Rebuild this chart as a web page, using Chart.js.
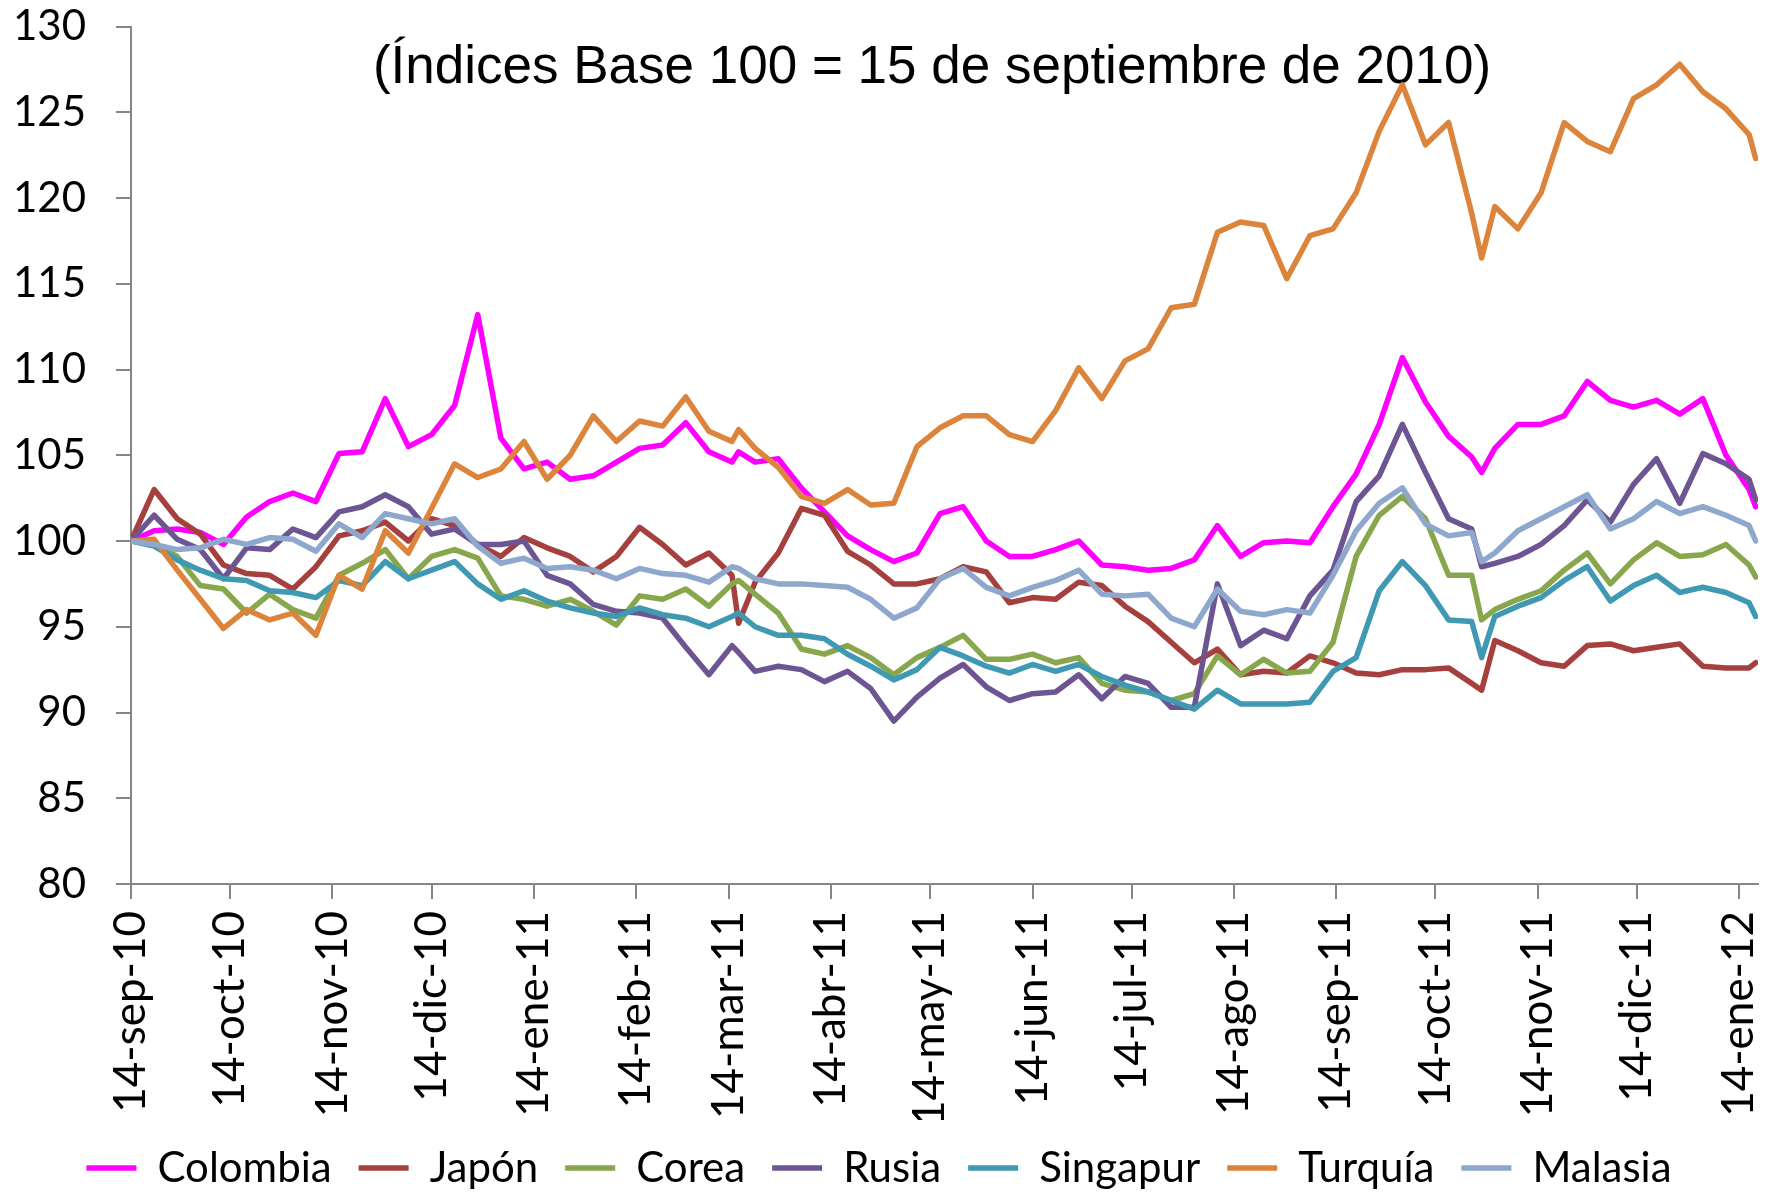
<!DOCTYPE html>
<html>
<head>
<meta charset="utf-8">
<script src="https://cdn.jsdelivr.net/npm/chart.js@4.4.1/dist/chart.umd.min.js"></script>
<style>
  html, body { margin: 0; padding: 0; background: #fff; }
  canvas { display: block; }
</style>
</head>
<body>
<canvas id="indexChart" width="1776" height="1199"></canvas>
<script>
// days counted from 14-sep-2010
const days = [
  0, 7, 14, 21, 28, 35, 42, 49, 56, 63,
  70, 77, 84, 91, 98, 105, 112, 119, 126, 133,
  140, 147, 154, 161, 168, 175, 182, 184, 189, 196,
  203, 210, 217, 224, 231, 238, 245, 252, 259, 266,
  273, 280, 287, 294, 301, 308, 315, 322, 329, 336,
  343, 350, 357, 364, 371, 378, 385, 392, 399, 406,
  409, 413, 420, 427, 434, 441, 448, 455, 462, 469,
  476, 483, 490, 492
];

const tickDays = [0, 30, 61, 91, 122, 153, 181, 212, 242, 273, 303, 334, 365, 395, 426, 456, 487];
const tickLabels = [
  "14-sep-10", "14-oct-10", "14-nov-10", "14-dic-10", "14-ene-11", "14-feb-11",
  "14-mar-11", "14-abr-11", "14-may-11", "14-jun-11", "14-jul-11", "14-ago-11",
  "14-sep-11", "14-oct-11", "14-nov-11", "14-dic-11", "14-ene-12"
];

const colombia = [
  100.0, 100.6, 100.7, 100.5, 99.8, 101.4, 102.3, 102.8, 102.3, 105.1,
  105.2, 108.3, 105.5, 106.2, 107.9, 113.2, 106.0, 104.2, 104.6, 103.6,
  103.8, 104.6, 105.4, 105.6, 106.9, 105.2, 104.6, 105.2, 104.6, 104.8,
  103.1, 101.7, 100.3, 99.5, 98.8, 99.3, 101.6, 102.0, 100.0, 99.1,
  99.1, 99.5, 100.0, 98.6, 98.5, 98.3, 98.4, 98.9, 100.9, 99.1,
  99.9, 100.0, 99.9, 102.0, 103.9, 106.8, 110.7, 108.1, 106.1, 104.9,
  104.0, 105.4, 106.8, 106.8, 107.3, 109.3, 108.2, 107.8, 108.2, 107.4,
  108.3, 105.0, 103.0, 102.0
];
const japon = [
  100.0, 103.0, 101.3, 100.4, 98.6, 98.1, 98.0, 97.2, 98.5, 100.3,
  100.6, 101.1, 100.0, 101.3, 100.9, 99.8, 99.1, 100.2, 99.6, 99.1,
  98.2, 99.1, 100.8, 99.8, 98.6, 99.3, 98.0, 95.2, 97.6, 99.3,
  101.9, 101.5, 99.4, 98.6, 97.5, 97.5, 97.8, 98.5, 98.2, 96.4,
  96.7, 96.6, 97.6, 97.4, 96.2, 95.3, 94.1, 92.9, 93.7, 92.2,
  92.4, 92.3, 93.3, 92.9, 92.3, 92.2, 92.5, 92.5, 92.6, 91.7,
  91.3, 94.2, 93.6, 92.9, 92.7, 93.9, 94.0, 93.6, 93.8, 94.0,
  92.7, 92.6, 92.6, 92.9
];
const corea = [
  100.0, 99.8, 99.1, 97.4, 97.2, 95.8, 96.9, 96.0, 95.5, 98.0,
  98.7, 99.5, 97.8, 99.1, 99.5, 99.0, 96.8, 96.6, 96.2, 96.6,
  95.9, 95.1, 96.8, 96.6, 97.2, 96.2, 97.5, 97.7, 96.9, 95.8,
  93.7, 93.4, 93.9, 93.2, 92.2, 93.2, 93.8, 94.5, 93.1, 93.1,
  93.4, 92.9, 93.2, 91.7, 91.3, 91.2, 90.7, 91.1, 93.3, 92.2,
  93.1, 92.3, 92.4, 94.1, 99.1, 101.5, 102.6, 101.3, 98.0, 98.0,
  95.4, 96.0, 96.6, 97.1, 98.3, 99.3, 97.5, 98.9, 99.9, 99.1,
  99.2, 99.8, 98.6, 97.9
];
const rusia = [
  100.0, 101.5, 100.1, 99.5, 97.8, 99.6, 99.5, 100.7, 100.2, 101.7,
  102.0, 102.7, 102.0, 100.4, 100.7, 99.8, 99.8, 100.0, 98.0, 97.5,
  96.3, 95.9, 95.8, 95.5, 93.8, 92.2, 93.9, 93.5, 92.4, 92.7,
  92.5, 91.8, 92.4, 91.4, 89.5, 90.9, 92.0, 92.8, 91.5, 90.7,
  91.1, 91.2, 92.2, 90.8, 92.1, 91.7, 90.3, 90.3, 97.5, 93.9,
  94.8, 94.3, 96.8, 98.3, 102.3, 103.8, 106.8, 104.0, 101.3, 100.7,
  98.5, 98.7, 99.1, 99.8, 100.9, 102.4, 101.1, 103.3, 104.8, 102.2,
  105.1, 104.5, 103.6, 102.4
];
const singapur = [
  100.0, 99.7, 98.9, 98.3, 97.8, 97.7, 97.1, 97.0, 96.7, 97.7,
  97.4, 98.8, 97.8, 98.3, 98.8, 97.5, 96.6, 97.1, 96.5, 96.1,
  95.8, 95.6, 96.1, 95.7, 95.5, 95.0, 95.6, 95.8, 95.0, 94.5,
  94.5, 94.3, 93.4, 92.7, 91.9, 92.5, 93.8, 93.3, 92.7, 92.3,
  92.8, 92.4, 92.8, 92.1, 91.6, 91.2, 90.7, 90.2, 91.3, 90.5,
  90.5, 90.5, 90.6, 92.4, 93.2, 97.1, 98.8, 97.4, 95.4, 95.3,
  93.2, 95.6, 96.2, 96.7, 97.7, 98.5, 96.5, 97.4, 98.0, 97.0,
  97.3, 97.0, 96.4, 95.6
];
const turquia = [
  100.0, 100.1, 98.3, 96.6, 94.9, 96.0, 95.4, 95.8, 94.5, 98.0,
  97.2, 100.6, 99.3, 101.9, 104.5, 103.7, 104.2, 105.8, 103.6, 105.0,
  107.3, 105.8, 107.0, 106.7, 108.4, 106.4, 105.8, 106.5, 105.4, 104.3,
  102.6, 102.2, 103.0, 102.1, 102.2, 105.5, 106.6, 107.3, 107.3, 106.2,
  105.8, 107.6, 110.1, 108.3, 110.5, 111.2, 113.6, 113.8, 118.0, 118.6,
  118.4, 115.3, 117.8, 118.2, 120.3, 123.9, 126.6, 123.1, 124.4, 119.1,
  116.5, 119.5, 118.2, 120.3, 124.4, 123.3, 122.7, 125.8, 126.6, 127.8,
  126.2, 125.2, 123.7, 122.3
];
const malasia = [
  100.0, 99.8, 99.5, 99.6, 100.1, 99.8, 100.2, 100.1, 99.4, 101.0,
  100.2, 101.6, 101.3, 101.0, 101.3, 99.7, 98.7, 99.0, 98.4, 98.5,
  98.3, 97.8, 98.4, 98.1, 98.0, 97.6, 98.5, 98.4, 97.8, 97.5,
  97.5, 97.4, 97.3, 96.6, 95.5, 96.1, 97.8, 98.4, 97.3, 96.8,
  97.3, 97.7, 98.3, 96.9, 96.8, 96.9, 95.5, 95.0, 97.2, 95.9,
  95.7, 96.0, 95.8, 98.0, 100.6, 102.2, 103.1, 101.0, 100.3, 100.5,
  98.8, 99.3, 100.6, 101.3, 102.0, 102.7, 100.7, 101.3, 102.3, 101.6,
  102.0, 101.5, 100.9, 100.0
];

const seriesNames = ["Colombia", "Japón", "Corea", "Rusia", "Singapur", "Turquía", "Malasia"];
const seriesValues = [colombia, japon, corea, rusia, singapur, turquia, malasia];
const seriesColors = ["#FF00FF", "#A5403E", "#88A64B", "#6C5592", "#3F99B2", "#DC843B", "#8EA8CD"];

const axisGrey = "#868686";

const datasets = seriesNames.map((name, k) => ({
  label: name,
  data: seriesValues[k].map((v, i) => ({ x: days[i], y: v })),
  borderColor: seriesColors[k],
  backgroundColor: seriesColors[k],
  borderWidth: 5.5,
  borderJoinStyle: "round",
  borderCapStyle: "round",
  pointRadius: 0,
  tension: 0,
  // later series are painted on top, like the original
  order: seriesNames.length - k
}));

const baseTitle = {
  id: "baseTitle",
  beforeDatasetsDraw(chart) {
    const c = chart.ctx;
    c.save();
    c.font = "53px 'Liberation Sans', Arial, sans-serif";
    c.fillStyle = "#000";
    c.textAlign = "center";
    c.textBaseline = "alphabetic";
    c.fillText("(Índices Base 100 = 15 de septiembre de 2010)", 932, 83);
    c.restore();
  }
};

const ctx = document.getElementById("indexChart");

new Chart(ctx, {
  type: "line",
  data: { datasets },
  options: {
    responsive: false,
    animation: false,
    events: [],
    layout: {
      padding: { top: 26.5, right: 18, left: 0, bottom: 0 }
    },
    scales: {
      x: {
        type: "linear",
        min: 0,
        max: 492.7,
        afterBuildTicks: (scale) => {
          scale.ticks = tickDays.map(v => ({ value: v }));
        },
        afterFit: (scale) => {
          scale.height = 236;
          scale.paddingLeft = 0;
          scale.paddingRight = 0;
        },
        ticks: {
          autoSkip: false,
          maxRotation: 90,
          minRotation: 90,
          padding: 12,
          color: "#000",
          font: { family: "Lato", size: 44 },
          callback: (value, index) => tickLabels[index]
        },
        grid: {
          drawOnChartArea: false,
          tickLength: 15,
          color: axisGrey,
          lineWidth: 2
        },
        border: { color: axisGrey, width: 2 }
      },
      y: {
        min: 80,
        max: 130,
        afterFit: (scale) => {
          scale.width = 131;
          scale.paddingTop = 0;
          scale.paddingBottom = 0;
        },
        ticks: {
          stepSize: 5,
          padding: 30,
          color: "#000",
          font: { family: "Lato", size: 42, lineHeight: 1 }
        },
        grid: {
          drawOnChartArea: false,
          tickLength: 15,
          color: axisGrey,
          lineWidth: 2
        },
        border: { color: axisGrey, width: 2 }
      }
    },
    plugins: {
      legend: {
        position: "bottom",
        labels: {
          usePointStyle: true,
          pointStyle: "line",
          pointStyleWidth: 50,
          padding: 27,
          color: "#000",
          font: { family: "Lato", size: 42 },
          sort: (a, b) => a.datasetIndex - b.datasetIndex
        }
      },
      tooltip: { enabled: false },
      title: { display: false }
    }
  },
  plugins: [baseTitle]
});
</script>
</body>
</html>
